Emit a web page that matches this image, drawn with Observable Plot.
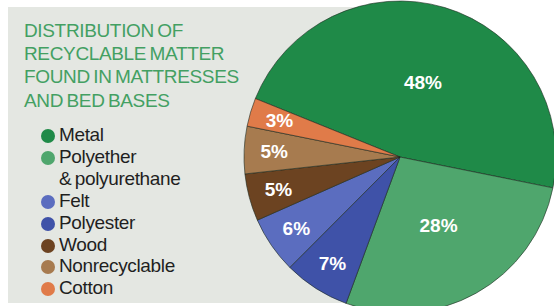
<!DOCTYPE html>
<html>
<head>
<meta charset="utf-8">
<script src="https://cdn.jsdelivr.net/npm/d3@7"></script>
<script src="https://cdn.jsdelivr.net/npm/@observablehq/plot@0.6"></script>
<style>
  html, body { margin: 0; padding: 0; background: #fff; }
  #wrap { position: relative; width: 554px; height: 306px; overflow: hidden; background: #fff; font-family: "Liberation Sans", Arial, sans-serif; }
  #panel { position: absolute; left: 8px; top: 7px; width: 430px; height: 296px; background: #e4e7e2; }
  #chart { position: absolute; left: 0; top: 0; }
  #title { position: absolute; left: 24px; top: 19px; color: #43a062; font-size: 19px; line-height: 23.2px; letter-spacing: -0.35px; word-spacing: -1.5px; text-transform: uppercase; }
  #legend { position: absolute; left: 41px; top: 124px; color: #1f1f1f; font-size: 19px; line-height: 21.9px; letter-spacing: -0.35px; }
  .item { display: flex; align-items: flex-start; }
  .dot { width: 14px; height: 14px; border-radius: 50%; margin-top: 5px; margin-right: 4px; flex: none; }
</style>
</head>
<body>
<div id="wrap">
  <div id="panel"></div>
  <div id="chart"></div>
  <div id="title"></div>
  <div id="legend"></div>
</div>
<script>
// Data
const titleLines = ["Distribution of", "recyclable matter", "found in mattresses", "and bed bases"];
const categories = ["Metal", "Polyether & polyurethane", "Polyester", "Felt", "Wood", "Nonrecyclable", "Cotton"];
const values = [48, 28, 7, 6, 5, 5, 3];
const colors = ["#1f8a48", "#4fa66d", "#3f52a8", "#5b6dbf", "#6c4321", "#a77b4f", "#e07b49"];
const legendOrder = ["Metal", "Polyether & polyurethane", "Felt", "Polyester", "Wood", "Nonrecyclable", "Cotton"];
const legendLines = {"Polyether & polyurethane": ["Polyether", "&\u2009polyurethane"]};

// Pie geometry (angles from the data)
const startAngle = -68 * Math.PI / 180; // Metal starts upper-left
const pie = d3.pie().sort(null).value(d => d.value)
  .startAngle(startAngle).endAngle(startAngle + 2 * Math.PI);
const rows = categories.map((c, i) => ({category: c, value: values[i], color: colors[i]}));
const arcs = pie(rows);
const labels = arcs.map(a => {
  const mid = (a.startAngle + a.endAngle) / 2;
  const rr = a.data.value >= 20 ? 0.5 : 0.81;
  return {x: rr * Math.sin(mid), y: rr * Math.cos(mid), text: a.data.value + "%"};
});

// Scale domains in pie units (radius = 1)
const W = 554, H = 306, cx = 400, cy = 157, R = 156;
const xDomain = [-cx / R, (W - cx) / R];
const yDomain = [-(H - cy) / R, cy / R];

const slices = (index, scales, values, dims, context) => {
  const x0 = scales.x(0), y0 = scales.y(0);
  const r = scales.x(1) - scales.x(0);
  const arc = d3.arc().innerRadius(0).outerRadius(r);
  const g = d3.create("svg:g").attr("transform", `translate(${x0},${y0})`);
  g.selectAll("path").data(arcs).join("path")
    .attr("d", arc)
    .attr("fill", d => d.data.color)
    .attr("stroke", "#1c2a20")
    .attr("stroke-opacity", 0.75)
    .attr("stroke-width", 0.8)
    .attr("stroke-linejoin", "round");
  return g.node();
};

const plot = Plot.plot({
  width: W, height: H,
  margin: 0,
  style: {background: "transparent", overflow: "hidden"},
  x: {domain: xDomain, axis: null},
  y: {domain: yDomain, axis: null},
  marks: [
    slices,
    Plot.text(labels, {x: "x", y: "y", text: "text", fill: "white",
      fontSize: 19, fontWeight: "bold", fontFamily: "Liberation Sans, Arial, sans-serif"})
  ]
});
document.getElementById("chart").appendChild(plot);

// Title
document.getElementById("title").innerHTML = titleLines.join("<br>");

// Legend
const legend = document.getElementById("legend");
legendOrder.forEach(c => {
  const i = categories.indexOf(c);
  const lines = legendLines[c] || [c];
  const item = document.createElement("div");
  item.className = "item";
  item.innerHTML = `<span class="dot" style="background:${colors[i]}"></span><span>${lines.join("<br>")}</span>`;
  legend.appendChild(item);
});
</script>
</body>
</html>
